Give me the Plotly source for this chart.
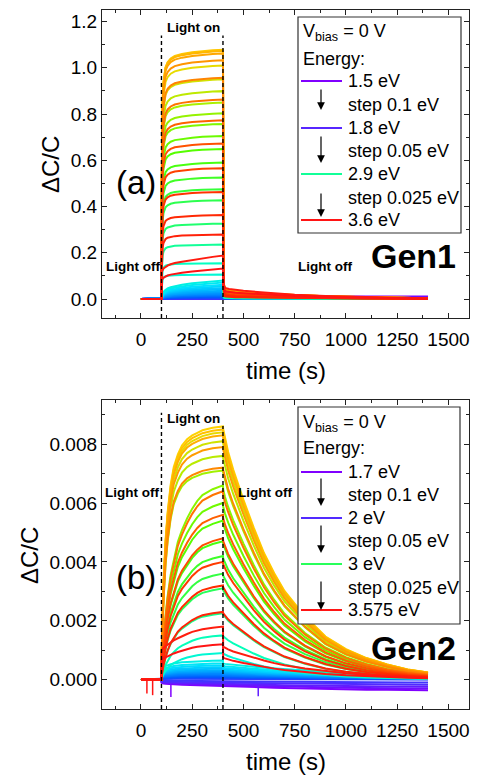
import numpy as np
import plotly.graph_objects as go

# ---------------- DATA ----------------
# Gen1: energies 1.5-1.8 (0.1), 1.85-2.9 (0.05), 2.925-3.6 (0.025)
gen1_energy = [1.5, 1.6, 1.7, 1.8] + [round(1.85 + 0.05 * k, 3) for k in range(22)] + \
              [round(2.925 + 0.025 * k, 3) for k in range(28)]
# plateau value of dC/C at t = 400 s for each energy
gen1_amp = [0.011, 0.008, 0.006, 0.004,
            0.003, 0.004, 0.005, 0.006, 0.008, 0.010, 0.012, 0.015, 0.018, 0.022,
            0.026, 0.031, 0.036, 0.042, 0.048, 0.055, 0.062, 0.071, 0.080,
            0.106, 0.155, 0.236, 0.326, 0.427, 0.475, 0.526, 0.590, 0.649, 0.705,
            0.757, 0.803, 0.850, 0.899, 0.950, 1.010, 1.075,
            1.078, 1.073, 1.062, 1.033, 0.957, 0.863, 0.773, 0.673, 0.566, 0.463,
            0.363, 0.279, 0.188, 0.132]
gen1_kind = ['hold'] * 4 + ['slow'] * 19 + ['fast'] * 29 + ['jump'] * 2
# time grid and normalised transient shapes (fraction of plateau)
gen1_t = [0, 100, 101, 103, 106, 110, 115, 120, 130, 145, 165, 200, 250, 300, 350, 400,
          401, 403, 407, 415, 430, 460, 500, 600, 750, 900, 1100, 1250, 1400]
gen1_shape = {
    'fast': [0, 0, 0.45, 0.68, 0.80, 0.87, 0.91, 0.93, 0.95, 0.965, 0.975, 0.983, 0.99, 0.995, 0.998, 1.0,
             0.2, 0.07, 0.045, 0.038, 0.033, 0.029, 0.026, 0.021, 0.015, 0.011, 0.007, 0.005, 0.003],
    'slow': [0, 0, 0.10, 0.20, 0.30, 0.38, 0.45, 0.50, 0.57, 0.64, 0.70, 0.77, 0.85, 0.91, 0.96, 1.0,
             0.5, 0.4, 0.35, 0.32, 0.30, 0.27, 0.25, 0.20, 0.15, 0.11, 0.07, 0.05, 0.03],
    'jump': [0, 0, 0.62, 0.65, 0.68, 0.70, 0.72, 0.74, 0.77, 0.80, 0.83, 0.86, 0.90, 0.94, 0.97, 1.0,
             0.5, 0.35, 0.28, 0.25, 0.23, 0.21, 0.19, 0.15, 0.10, 0.07, 0.04, 0.02, 0.01],
    'hold': [0, 0, 0.5, 0.6, 0.7, 0.8, 0.85, 0.88, 0.92, 0.95, 0.97, 0.98, 0.99, 1.0, 1.0, 1.0,
             1.0, 1.0, 1.0, 1.0, 1.0, 1.0, 1.0, 1.0, 1.0, 1.0, 1.0, 1.0, 1.0],
}

# Gen2: energies 1.7-2.0 (0.1), 2.05-3.0 (0.05), 3.025-3.575 (0.025)
gen2_energy = [1.7, 1.8, 1.9, 2.0] + [round(2.05 + 0.05 * k, 3) for k in range(20)] + \
              [round(3.025 + 0.025 * k, 3) for k in range(23)]
gen2_amp = [-0.00036, -0.00030, -0.00024, -0.00018, -0.00010,
            0.00003, 0.00005, 0.00008, 0.00010, 0.00013, 0.00016, 0.00020, 0.00024, 0.00028,
            0.00032, 0.00037, 0.00042, 0.00048, 0.00055, 0.00065,
            0.0009, 0.0015, 0.00225, 0.0031, 0.0036, 0.0042, 0.0047, 0.0054, 0.0060, 0.0066,
            0.0071, 0.0076, 0.0081, 0.0084, 0.0086, 0.0085, 0.0083, 0.0079, 0.0072,
            0.0064, 0.0056, 0.0048, 0.0040, 0.0032, 0.0023,
            0.0018, 0.0012]
gen2_kind = ['drift'] * 5 + ['low'] * 15 + ['mid'] * 10 + ['fast'] * 9 + ['mid'] * 6 + ['red'] * 2
gen2_t = [0, 100, 101, 105, 110, 120, 130, 145, 160, 180, 200, 225, 250, 275, 300, 350, 400,
          401, 410, 425, 450, 500, 550, 600, 650, 700, 800, 900, 1000, 1100, 1200, 1300, 1400]
gen2_shape = {
    'fast': [0, 0, 0.10, 0.25, 0.38, 0.55, 0.66, 0.77, 0.84, 0.89, 0.925, 0.95, 0.965, 0.975, 0.985, 0.995, 1.0,
             0.99, 0.95, 0.90, 0.83, 0.71, 0.60, 0.50, 0.42, 0.35, 0.25, 0.17, 0.12, 0.085, 0.06, 0.04, 0.028],
    'mid': [0, 0, 0.05, 0.13, 0.21, 0.33, 0.43, 0.54, 0.62, 0.71, 0.77, 0.83, 0.88, 0.92, 0.95, 0.98, 1.0,
            0.98, 0.94, 0.89, 0.82, 0.70, 0.59, 0.49, 0.41, 0.34, 0.24, 0.165, 0.115, 0.08, 0.055, 0.038, 0.026],
    'red': [0, 0, 0.55, 0.58, 0.60, 0.63, 0.66, 0.70, 0.74, 0.78, 0.82, 0.86, 0.90, 0.93, 0.95, 0.98, 1.0,
            0.62, 0.60, 0.57, 0.53, 0.47, 0.41, 0.36, 0.31, 0.27, 0.21, 0.16, 0.12, 0.09, 0.07, 0.05, 0.04],
    'low': [0, 0, 0.30, 0.50, 0.60, 0.70, 0.75, 0.80, 0.84, 0.88, 0.90, 0.92, 0.94, 0.96, 0.97, 0.99, 1.0,
            0.85, 0.82, 0.80, 0.77, 0.72, 0.67, 0.62, 0.58, 0.54, 0.47, 0.41, 0.36, 0.32, 0.28, 0.25, 0.22],
    'drift': [0, 0, 0.30, 0.35, 0.38, 0.40, 0.42, 0.44, 0.45, 0.47, 0.48, 0.50, 0.51, 0.52, 0.53, 0.55, 0.57,
              0.58, 0.60, 0.62, 0.64, 0.68, 0.71, 0.74, 0.77, 0.80, 0.85, 0.89, 0.92, 0.95, 0.97, 0.99, 1.0],
}
# single-point glitches in the Gen2 data
gen2_spike_t = [29, 57, 146, 572]
gen2_spike_v = [-0.00047, -0.00053, -0.00059, -0.00057]
gen2_spike_curve = [46, 46, 0, 2]

light_on, light_off = 100, 400

# ---------------- STYLE ----------------
W, H = 477, 776
ML, MR, MT, MB = 102, 8, 10, 67
PW, PH = W - ML - MR, H - MT - MB
FONT = 'Arial, "Liberation Sans", sans-serif'

stops = [(0.00, (128, 0, 255)), (0.06, (85, 40, 255)), (0.18, (0, 90, 255)), (0.30, (0, 170, 255)),
         (0.38, (0, 225, 255)), (0.45, (0, 255, 200)), (0.50, (40, 255, 90)), (0.58, (80, 255, 0)),
         (0.66, (170, 240, 0)), (0.74, (255, 210, 0)), (0.80, (255, 160, 0)), (0.87, (255, 95, 0)),
         (0.93, (255, 45, 0)), (1.00, (255, 20, 20))]


def rainbow(f):
    for (f0, c0), (f1, c1) in zip(stops[:-1], stops[1:]):
        if f <= f1:
            w = (f - f0) / (f1 - f0)
            return 'rgb(%d,%d,%d)' % tuple(round(a + (b - a) * w) for a, b in zip(c0, c1))
    return 'rgb(%d,%d,%d)' % stops[-1][1]


def px(x):
    return (x - ML) / PW


def py(y):
    return (H - MB - y) / PH


fig = go.Figure()

n1 = len(gen1_amp)
col1 = [rainbow(i / (n1 - 1)) for i in range(n1)]
for i in range(n1):
    y = gen1_amp[i] * np.array(gen1_shape[gen1_kind[i]])
    fig.add_trace(go.Scatter(x=gen1_t, y=y, mode='lines', line=dict(color=col1[i], width=2),
                             name='%g eV' % gen1_energy[i], xaxis='x', yaxis='y',
                             showlegend=False, hoverinfo='skip'))

n2 = len(gen2_amp)
col2 = [rainbow(i / (n2 - 1)) for i in range(n2)]
gen2_curves = []
for i in range(n2):
    y = gen2_amp[i] * np.array(gen2_shape[gen2_kind[i]])
    gen2_curves.append(y)
    fig.add_trace(go.Scatter(x=gen2_t, y=y, mode='lines', line=dict(color=col2[i], width=2),
                             name='%g eV' % gen2_energy[i], xaxis='x2', yaxis='y2',
                             showlegend=False, hoverinfo='skip'))
for t, v, c in zip(gen2_spike_t, gen2_spike_v, gen2_spike_curve):
    base = float(np.interp(t, gen2_t, gen2_curves[c]))
    fig.add_trace(go.Scatter(x=[t, t], y=[base, v], mode='lines', line=dict(color=col2[c], width=1.5),
                             xaxis='x2', yaxis='y2', showlegend=False, hoverinfo='skip'))

AX = dict(showline=True, linecolor='#222', linewidth=1.3, mirror='ticks', ticks='inside', ticklen=5,
          tickwidth=1.2, tickcolor='#222', showgrid=False, zeroline=False,
          tickfont=dict(size=19, family=FONT, color='black'))
XR = [-190, 1600]
Y1R = [-0.082, 1.25]
Y2R = [-0.001, 0.0095]
top_dom = [py(318), py(10)]
bot_dom = [py(709), py(400)]
XMINOR = dict(ticks='inside', ticklen=3, tickwidth=1.2, tickcolor='#222', tick0=0, dtick=125)

fig.update_layout(
    width=W, height=H, margin=dict(l=ML, r=MR, t=MT, b=MB),
    paper_bgcolor='white', plot_bgcolor='white', showlegend=False,
    font=dict(family=FONT, color='black'),
    xaxis=dict(AX, range=XR, domain=[0, 1], anchor='y', tick0=0, dtick=250, ticklabelstandoff=4,
               minor=XMINOR),
    yaxis=dict(AX, range=Y1R, domain=top_dom, anchor='x', tick0=0, dtick=0.2, tickformat='.1f',
               minor=dict(ticks='inside', ticklen=3, tickwidth=1.2, tickcolor='#222', tick0=0, dtick=0.1)),
    xaxis2=dict(AX, range=XR, domain=[0, 1], anchor='y2', tick0=0, dtick=250, ticklabelstandoff=4,
                minor=XMINOR),
    yaxis2=dict(AX, range=Y2R, domain=bot_dom, anchor='x2', tick0=0, dtick=0.002, tickformat='.3f',
                minor=dict(ticks='inside', ticklen=3, tickwidth=1.2, tickcolor='#222', tick0=0, dtick=0.001)),
)

shapes = []
# light on / off markers
for xr, yr, yrange, tops in (('x', 'y', Y1R, (1.14, 1.14)), ('x2', 'y2', Y2R, (0.00907, 0.00862))):
    for xv, ytop in zip((light_on, light_off), tops):
        shapes.append(dict(type='line', xref=xr, yref=yr, x0=xv, x1=xv, y0=yrange[0], y1=ytop,
                           line=dict(color='black', width=1.4, dash='4px,3px')))

annotations = []


def text(s, x, y, size, bold=False, xanchor='center', angle=0):
    annotations.append(dict(text='<b>%s</b>' % s if bold else s, x=px(x), y=py(y), xref='paper', yref='paper',
                            xanchor=xanchor, yanchor='middle', showarrow=False, textangle=angle,
                            font=dict(size=size, family=FONT, color='black')))


def legend_block(box, rows, colors, labels, arrows):
    x0, y0, x1, y1 = box
    shapes.append(dict(type='rect', xref='paper', yref='paper', x0=px(x0), x1=px(x1), y0=py(y1), y1=py(y0),
                       line=dict(color='#333', width=1.2), fillcolor='white', layer='above'))
    text('V<sub>bias</sub> = 0 V', 301, rows[0] + 2, 18, xanchor='left')
    text('Energy:', 301, rows[1], 18, xanchor='left')
    steps = ['step 0.1 eV', 'step 0.05 eV', 'step 0.025 eV']
    for k in range(4):
        yl = rows[2 + 2 * k]
        shapes.append(dict(type='line', xref='paper', yref='paper', x0=px(301), x1=px(342), y0=py(yl), y1=py(yl),
                           line=dict(color=colors[k], width=2), layer='above'))
        text(labels[k], 346, yl, 18, xanchor='left')
        if k < 3:
            text(steps[k], 346, rows[3 + 2 * k], 18, xanchor='left')
            a0, a1 = arrows[k]
            annotations.append(dict(text='', x=px(321), y=py(a1), xref='paper', yref='paper', showarrow=True,
                                    ax=0, ay=-(a1 - a0), arrowhead=2, arrowsize=1.3, arrowwidth=1.2,
                                    arrowcolor='black', standoff=0))


legend_block((298, 17, 461, 233), [31, 59, 81, 105, 128, 151, 174, 198, 220],
             [col1[0], col1[3], col1[25], col1[53]], ['1.5 eV', '1.8 eV', '2.9 eV', '3.6 eV'],
             [(88, 110), (135, 163), (192, 217)])
legend_block((298, 407, 460, 624), [421, 448, 472, 495, 518, 541, 564, 588, 610],
             [col2[0], col2[3], col2[23], col2[46]], ['1.7 eV', '2 eV', '3 eV', '3.575 eV'],
             [(477, 506), (524, 553), (580, 610)])

# panel texts
text('Light on', 193.5, 28, 13.5, bold=True)
text('Light off', 132.5, 266, 13.5, bold=True)
text('Light off', 325, 266, 13.5, bold=True)
text('Gen1', 413, 256, 34, bold=True)
text('(a)', 136, 183, 33)
text('Light on', 193.5, 418, 13.5, bold=True)
text('Light off', 132, 492, 13.5, bold=True)
text('Light off', 265, 492, 13.5, bold=True)
text('Gen2', 413, 648, 34, bold=True)
text('(b)', 136, 577, 33)
# axis titles
text('time (s)', 285.5, 370, 24)
text('time (s)', 285.5, 761, 24)
text('ΔC/C', 50, 164, 24, angle=-90)
text('ΔC/C', 29, 556, 24, angle=-90)

fig.update_layout(shapes=shapes, annotations=annotations)
fig.write_html('out.html')
